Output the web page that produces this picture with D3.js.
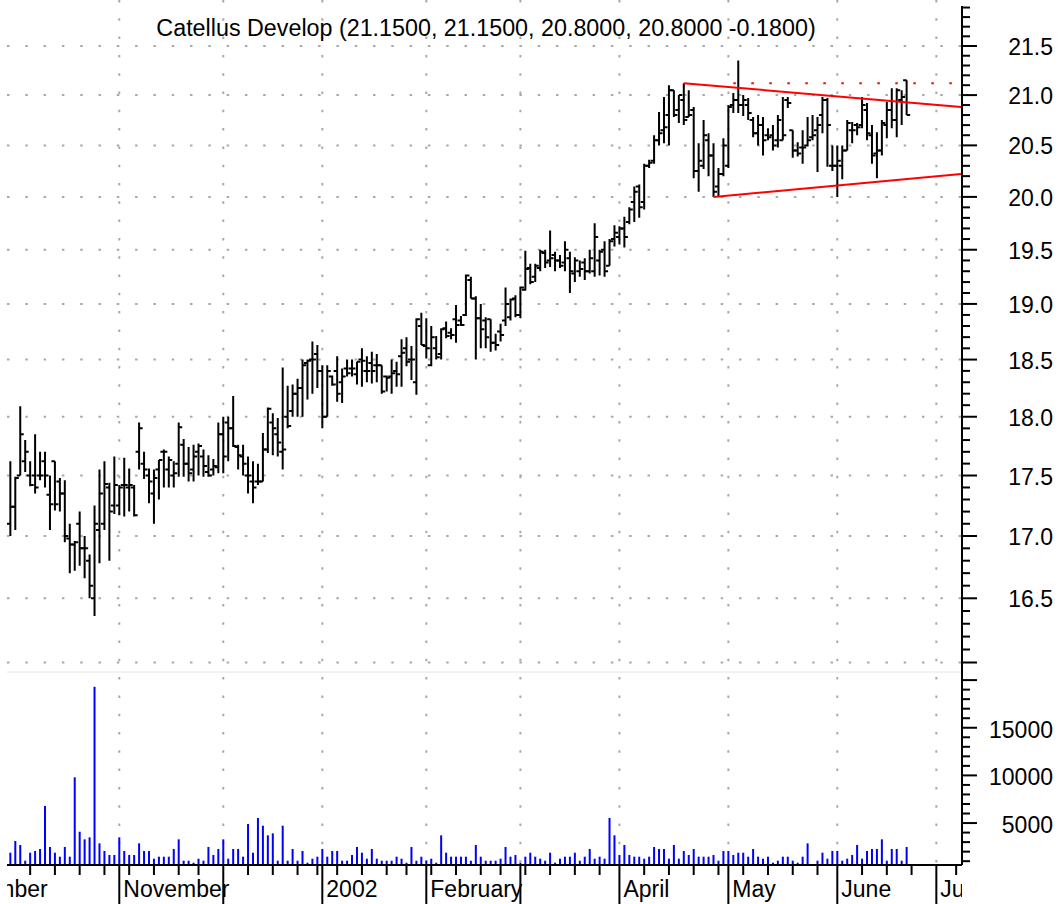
<!DOCTYPE html>
<html>
<head>
<meta charset="utf-8">
<script src="https://cdn.jsdelivr.net/npm/d3@7"></script>
<style>
  body { margin: 0; background: #fff; }
  svg text { font-family: "Liberation Sans", Arial, Helvetica, sans-serif; fill: #000; }
</style>
</head>
<body>
<svg id="chart" width="1061" height="904"></svg>
<script>
const title = "Catellus Develop (21.1500, 21.1500, 20.8000, 20.8000 -0.1800)";

// daily bars: [open, high, low, close]
const oct01 = [
  [17.10, 17.62, 17.00, 17.24], [17.24, 17.49, 17.05, 17.48], [17.50, 18.09, 17.50, 17.85], [17.62, 17.80, 17.53, 17.70],
  [17.50, 17.62, 17.41, 17.42], [17.50, 17.85, 17.35, 17.40], [17.50, 17.70, 17.46, 17.50], [17.62, 17.70, 17.40, 17.50],
  [17.34, 17.50, 17.05, 17.26], [17.62, 17.62, 17.21, 17.26], [17.45, 17.48, 17.20, 17.35], [17.35, 17.46, 16.95, 17.00],
  [16.98, 17.10, 16.70, 16.93], [16.93, 16.96, 16.72, 16.95], [17.10, 17.20, 16.76, 16.90], [16.90, 17.00, 16.66, 16.90],
  [16.80, 16.85, 16.50, 16.60], [16.50, 17.25, 16.36, 17.10], [17.05, 17.55, 16.78, 17.35], [17.10, 17.62, 17.05, 17.43],
  [17.40, 17.44, 16.80, 17.20], [17.25, 17.66, 17.18, 17.42]
];
const nov01 = [
  [17.25, 17.42, 17.17, 17.40], [17.42, 17.65, 17.16, 17.42], [17.40, 17.56, 17.20, 17.42], [17.40, 17.42, 17.16, 17.17],
  [17.70, 17.95, 17.55, 17.90], [17.60, 17.70, 17.47, 17.55], [17.50, 17.56, 17.27, 17.45], [17.35, 17.55, 17.10, 17.48],
  [17.55, 17.63, 17.30, 17.63], [17.70, 17.72, 17.40, 17.70], [17.55, 17.66, 17.40, 17.63], [17.50, 17.62, 17.40, 17.52],
  [17.60, 17.95, 17.49, 17.91], [17.76, 17.81, 17.49, 17.60], [17.60, 17.74, 17.45, 17.52], [17.55, 17.76, 17.45, 17.66],
  [17.70, 17.77, 17.50, 17.75], [17.66, 17.72, 17.49, 17.58], [17.53, 17.67, 17.49, 17.50], [17.55, 17.64, 17.50, 17.58],
  [17.57, 17.95, 17.52, 17.85]
];
const dec01 = [
  [17.85, 18.00, 17.52, 17.66], [17.95, 18.00, 17.62, 17.90], [17.90, 18.18, 17.74, 17.75], [17.74, 17.76, 17.55, 17.67],
  [17.66, 17.76, 17.50, 17.60], [17.50, 17.66, 17.35, 17.50], [17.45, 17.62, 17.27, 17.40], [17.45, 17.60, 17.42, 17.45],
  [17.45, 17.86, 17.45, 17.72], [17.72, 18.08, 17.69, 18.07], [17.95, 18.03, 17.67, 17.90], [17.85, 17.99, 17.66, 17.78],
  [17.70, 18.43, 17.55, 17.72], [18.00, 18.27, 17.90, 17.92], [18.05, 18.28, 18.00, 18.20], [18.20, 18.33, 18.00, 18.25],
  [18.25, 18.50, 18.00, 18.45], [18.47, 18.50, 18.15, 18.49], [18.50, 18.66, 18.20, 18.50], [18.55, 18.63, 18.25, 18.40]
];
const jan02 = [
  [18.40, 18.45, 17.90, 18.00], [18.00, 18.45, 18.00, 18.40], [18.35, 18.36, 18.27, 18.28], [18.40, 18.53, 18.13, 18.20],
  [18.30, 18.42, 18.12, 18.35], [18.42, 18.50, 18.35, 18.38], [18.42, 18.50, 18.35, 18.42], [18.37, 18.48, 18.28, 18.48],
  [18.50, 18.60, 18.26, 18.49], [18.40, 18.53, 18.30, 18.40], [18.47, 18.57, 18.29, 18.40], [18.45, 18.55, 18.30, 18.45],
  [18.45, 18.45, 18.20, 18.22], [18.35, 18.36, 18.22, 18.34], [18.35, 18.50, 18.20, 18.38], [18.40, 18.48, 18.26, 18.37],
  [18.53, 18.68, 18.26, 18.56], [18.60, 18.70, 18.44, 18.48], [18.50, 18.62, 18.32, 18.50], [18.30, 18.87, 18.19, 18.86],
  [18.80, 18.92, 18.63, 18.63]
];
const feb02 = [
  [18.62, 18.87, 18.51, 18.60], [18.45, 18.80, 18.44, 18.70], [18.60, 18.71, 18.50, 18.52], [18.55, 18.78, 18.50, 18.77],
  [18.78, 18.84, 18.69, 18.71], [18.74, 18.78, 18.68, 18.72], [18.86, 18.99, 18.65, 18.81], [18.85, 18.89, 18.80, 18.81],
  [18.90, 19.27, 18.89, 19.26], [19.22, 19.25, 19.05, 19.05], [19.05, 19.07, 18.50, 18.87], [18.87, 19.00, 18.60, 18.77],
  [18.85, 18.88, 18.60, 18.70], [18.86, 18.86, 18.57, 18.65], [18.65, 18.73, 18.58, 18.63], [18.75, 18.82, 18.66, 18.72],
  [18.85, 19.15, 18.80, 19.00], [18.88, 19.05, 18.85, 19.04], [19.05, 19.08, 18.88, 18.90]
];
const mar02 = [
  [18.90, 19.16, 18.87, 19.15], [19.13, 19.49, 19.12, 19.32], [19.33, 19.37, 19.18, 19.20], [19.25, 19.37, 19.20, 19.35],
  [19.33, 19.50, 19.30, 19.48], [19.47, 19.50, 19.33, 19.38], [19.40, 19.68, 19.34, 19.42], [19.45, 19.48, 19.30, 19.40],
  [19.40, 19.45, 19.33, 19.35], [19.38, 19.58, 19.30, 19.50], [19.42, 19.48, 19.10, 19.30], [19.28, 19.43, 19.20, 19.40],
  [19.30, 19.40, 19.25, 19.32], [19.38, 19.42, 19.22, 19.30], [19.30, 19.50, 19.28, 19.42], [19.30, 19.75, 19.25, 19.62],
  [19.40, 19.50, 19.26, 19.48], [19.50, 19.58, 19.25, 19.30], [19.35, 19.60, 19.35, 19.58], [19.60, 19.73, 19.53, 19.66]
];
const apr02 = [
  [19.62, 19.72, 19.55, 19.70], [19.70, 19.81, 19.52, 19.62], [19.76, 19.90, 19.74, 19.88], [19.95, 20.10, 19.76, 20.05],
  [20.10, 20.12, 19.80, 19.90], [19.95, 20.32, 19.88, 20.30], [20.30, 20.36, 20.28, 20.33], [20.35, 20.60, 20.32, 20.55],
  [20.55, 20.83, 20.50, 20.62], [20.65, 20.98, 20.52, 20.68], [20.80, 21.10, 20.50, 21.05], [21.05, 21.05, 20.78, 20.80],
  [20.85, 21.00, 20.72, 21.00], [20.95, 21.12, 20.70, 20.75], [20.78, 21.05, 20.78, 20.80], [20.85, 20.88, 20.18, 20.25],
  [20.25, 20.52, 20.05, 20.35], [20.30, 20.75, 20.27, 20.60], [20.55, 20.62, 20.20, 20.40], [20.40, 20.52, 20.00, 20.05],
  [20.10, 20.28, 20.00, 20.22], [20.22, 20.57, 20.20, 20.50]
];
const may02 = [
  [20.30, 20.90, 20.28, 20.88], [20.90, 21.02, 20.82, 20.95], [20.95, 21.35, 20.82, 20.90], [20.90, 21.00, 20.79, 20.95],
  [20.90, 20.97, 20.75, 20.82], [20.75, 20.78, 20.58, 20.62], [20.62, 20.80, 20.50, 20.70], [20.70, 20.78, 20.40, 20.55],
  [20.60, 20.67, 20.55, 20.58], [20.60, 20.70, 20.45, 20.50], [20.55, 20.80, 20.48, 20.75], [20.55, 20.98, 20.55, 20.60],
  [20.95, 20.98, 20.87, 20.92], [20.65, 20.65, 20.38, 20.45], [20.45, 20.53, 20.39, 20.42], [20.48, 20.65, 20.32, 20.48],
  [20.50, 20.78, 20.49, 20.55], [20.58, 20.80, 20.55, 20.60], [20.65, 20.78, 20.24, 20.70], [20.80, 20.98, 20.62, 20.95],
  [20.95, 20.97, 20.29, 20.70], [20.30, 20.50, 20.25, 20.30]
];
const jun02 = [
  [20.30, 20.50, 20.00, 20.35], [20.30, 20.50, 20.17, 20.45], [20.45, 20.75, 20.45, 20.72], [20.65, 20.73, 20.52, 20.65],
  [20.70, 20.72, 20.60, 20.68], [20.70, 20.98, 20.67, 20.90], [20.85, 20.92, 20.55, 20.62], [20.60, 20.70, 20.32, 20.40],
  [20.42, 20.63, 20.18, 20.45], [20.45, 20.75, 20.40, 20.72], [20.70, 20.93, 20.57, 20.85], [20.85, 21.07, 20.67, 20.75],
  [20.75, 21.07, 20.58, 21.05], [20.95, 21.05, 20.70, 20.98], [21.15, 21.15, 20.80, 20.80]
];

// daily volume
const volOct01 = [1890, 3120, 2700, 1050, 1890, 2070, 2280, 6790, 2490, 1890, 1470, 2490, 1470, 9800, 4090, 3290, 3500, 19300, 2870, 2070, 1650, 1650];
const volNov01 = [3500, 2070, 1650, 1650, 2870, 2070, 2070, 1260, 1470, 1470, 1470, 2280, 3290, 1050, 1050, 840, 1260, 1050, 2490, 1650, 2280];
const volDec01 = [3290, 1260, 2280, 2280, 1470, 4900, 1890, 5530, 4720, 3710, 3920, 1050, 4720, 1050, 2280, 1050, 2070, 840, 1260, 1470];
const volJan02 = [2280, 1470, 2070, 2070, 1050, 1050, 1650, 2490, 1890, 1260, 2280, 1260, 1050, 1050, 1050, 1470, 1260, 840, 2490, 1050, 1470];
const volFeb02 = [1050, 1260, 840, 3710, 1890, 1470, 1470, 1470, 1470, 1050, 2700, 1470, 1050, 1050, 1050, 1260, 2490, 1470, 1650];
const volMar02 = [840, 1470, 1890, 1470, 1260, 1050, 1890, 840, 1260, 1470, 1470, 1890, 1050, 1470, 2280, 1260, 1470, 1260, 5530, 3710];
const volApr02 = [1650, 2700, 1650, 1470, 1470, 1260, 1470, 2490, 2280, 2280, 1260, 2700, 1260, 2070, 1650, 2280, 1470, 1470, 1470, 1650, 1050, 2070];
const volMay02 = [2070, 1650, 1890, 1890, 1470, 2280, 1470, 1260, 1470, 840, 1050, 1470, 1470, 1050, 840, 1470, 2870, 640, 1050, 1890, 1260, 2070];
const volJun02 = [2070, 1050, 1260, 1650, 2700, 1260, 2070, 2280, 2280, 3290, 1050, 2280, 2280, 1050, 2490];

// trading calendar
const calendarStart = "2001-09-04", calendarEnd = "2002-07-12", firstBar = "2001-10-02";
const holidays = ["2001-09-11", "2001-09-12", "2001-09-13", "2001-09-14", "2001-11-22", "2001-12-25",
  "2002-01-01", "2002-01-21", "2002-02-18", "2002-03-29", "2002-05-27", "2002-07-04"];
const monthNames = ["January", "February", "March", "April", "May", "June", "July", "August", "September", "October", "November", "December"];

// axis ticks
const priceMinor = d3.range(160, 220).map(v => v / 10);
const priceLabels = [16.5, 17.0, 17.5, 18.0, 18.5, 19.0, 19.5, 20.0, 20.5, 21.0, 21.5];
const volMinor = d3.range(1000, 20001, 1000);
const volLabels = [5000, 10000, 15000];

// drawn trend lines: [bar index, price]
const upperTrend = [[136, 21.12], [192, 20.88]];
const lowerTrend = [[142, 20.00], [192, 20.22]];
const resistance = [[146, 21.12], [192, 21.12]];

const bars = [].concat(oct01, nov01, dec01, jan02, feb02, mar02, apr02, may02, jun02);
const volumes = [].concat(volOct01, volNov01, volDec01, volJan02, volFeb02, volMar02, volApr02, volMay02, volJun02);

const svg = d3.select("#chart");
const plotLeft = 7, plotRight = 962, baseY = 865;
const fontSize = 23;

const x = d3.scaleLinear().domain([0, 192]).range([10.35, 961.1]);
const y = d3.scaleLog().domain([16, 21.5]).range([662.5, 46]);
const yv = d3.scaleLinear().domain([0, 20000]).range([870.7, 680.1]);

// trading days, indexed from the first bar
const fmt = d3.utcFormat("%Y-%m-%d"), parse = d3.utcParse("%Y-%m-%d");
const days = d3.utcDays(parse(calendarStart), d3.utcDay.offset(parse(calendarEnd), 1))
  .filter(d => d.getUTCDay() % 6 !== 0 && !holidays.includes(fmt(d)));
const offset = days.findIndex(d => fmt(d) === firstBar);
const monthStarts = [], weekStarts = [];
days.forEach((d, i) => {
  const prev = days[i - 1];
  if (!prev || prev.getUTCMonth() !== d.getUTCMonth()) monthStarts.push({ i: i - offset, d });
  else if (+d3.utcMonday.floor(prev) !== +d3.utcMonday.floor(d)) weekStarts.push({ i: i - offset, d });
});

svg.append("rect").attr("width", 1061).attr("height", 904).attr("fill", "#fff");
svg.append("defs").append("clipPath").attr("id", "plotClip")
  .append("rect").attr("x", plotLeft).attr("y", 0).attr("width", plotRight - plotLeft).attr("height", 904);

const plot = svg.append("g").attr("clip-path", "url(#plotClip)");

// grid
const grid = plot.append("g").attr("stroke", "#a9a9a9").attr("stroke-width", 2).attr("stroke-dasharray", "2.5,15.8");
grid.selectAll(".hgrid").data(d3.range(160, 216, 5).map(v => v / 10)).join("line")
  .attr("x1", plotLeft).attr("x2", plotRight).attr("y1", d => y(d)).attr("y2", d => y(d));
grid.selectAll(".vgrid").data(monthStarts).join("line")
  .attr("x1", d => x(d.i)).attr("x2", d => x(d.i)).attr("y1", 0).attr("y2", baseY);

plot.append("line").attr("x1", plotLeft).attr("x2", plotRight).attr("y1", 672).attr("y2", 672)
  .attr("stroke", "#e4e4e4").attr("stroke-width", 1);

// volume
plot.append("g").selectAll("rect").data(volumes).join("rect")
  .attr("x", (d, i) => x(i) - 1).attr("width", 2)
  .attr("y", d => Math.min(yv(d), baseY)).attr("height", d => Math.max(0, baseY - yv(d)))
  .attr("fill", "#0000ff");

// price bars
plot.append("g").attr("fill", "none").attr("stroke", "#000").attr("stroke-width", 2)
  .selectAll("path").data(bars).join("path")
  .attr("d", ([o, h, l, c], i) => {
    const xi = x(i);
    return `M${xi},${y(h)}V${y(l)}M${xi - 3.5},${y(o)}H${xi}M${xi},${y(c)}H${xi + 3.5}`;
  });

// trend lines
const tline = d3.line().x(d => x(d[0])).y(d => y(d[1]));
const trends = plot.append("g").attr("fill", "none").attr("stroke", "#ff0000").attr("stroke-width", 2);
trends.append("path").attr("d", tline(upperTrend));
trends.append("path").attr("d", tline(lowerTrend));
trends.append("path").attr("d", tline(resistance)).attr("stroke-dasharray", "2.5,15.5");

// right axis
const axis = svg.append("g").attr("stroke", "#000").attr("stroke-width", 2);
axis.append("line").attr("x1", plotRight).attr("x2", plotRight).attr("y1", 6).attr("y2", baseY);
axis.selectAll(".pt").data(priceMinor).join("line")
  .attr("x1", plotRight).attr("x2", d => plotRight + (Math.round(d * 10) % 5 === 0 ? 15 : 8))
  .attr("y1", d => y(d)).attr("y2", d => y(d));
axis.selectAll(".vt").data(volMinor).join("line")
  .attr("x1", plotRight).attr("x2", d => plotRight + (d % 5000 === 0 ? 15 : 8))
  .attr("y1", d => yv(d)).attr("y2", d => yv(d));

svg.append("g").attr("font-size", fontSize).attr("text-anchor", "end")
  .selectAll("text").data(priceLabels).join("text")
  .attr("x", 1053).attr("y", d => y(d) + 9).text(d => d.toFixed(1));
svg.append("g").attr("font-size", fontSize).attr("text-anchor", "end")
  .selectAll("text").data(volLabels).join("text")
  .attr("x", 1053).attr("y", d => yv(d) + 10).text(d => d);

// bottom axis
const xAxis = plot.append("g");
xAxis.append("line").attr("x1", plotLeft).attr("x2", plotRight).attr("y1", baseY).attr("y2", baseY)
  .attr("stroke", "#000").attr("stroke-width", 2);
xAxis.selectAll(".wt").data(weekStarts).join("line")
  .attr("x1", d => x(d.i)).attr("x2", d => x(d.i)).attr("y1", baseY).attr("y2", baseY + 10)
  .attr("stroke", "#000").attr("stroke-width", 2);
xAxis.selectAll(".mt").data(monthStarts).join("line")
  .attr("x1", d => x(d.i)).attr("x2", d => x(d.i)).attr("y1", baseY).attr("y2", 904)
  .attr("stroke", "#000").attr("stroke-width", 2);

let lastEnd = -Infinity;
monthStarts.forEach(m => {
  const lx = x(m.i) + 4;
  if (lx < lastEnd + 10) return;
  const label = m.d.getUTCMonth() === 0 ? String(m.d.getUTCFullYear()) : monthNames[m.d.getUTCMonth()];
  const t = xAxis.append("text").attr("x", lx).attr("y", 896.5).attr("font-size", fontSize).text(label);
  lastEnd = lx + t.node().getComputedTextLength();
});

// title
svg.append("text").attr("x", 486).attr("y", 36).attr("text-anchor", "middle")
  .attr("font-size", 23.3).text(title);
</script>
</body>
</html>
